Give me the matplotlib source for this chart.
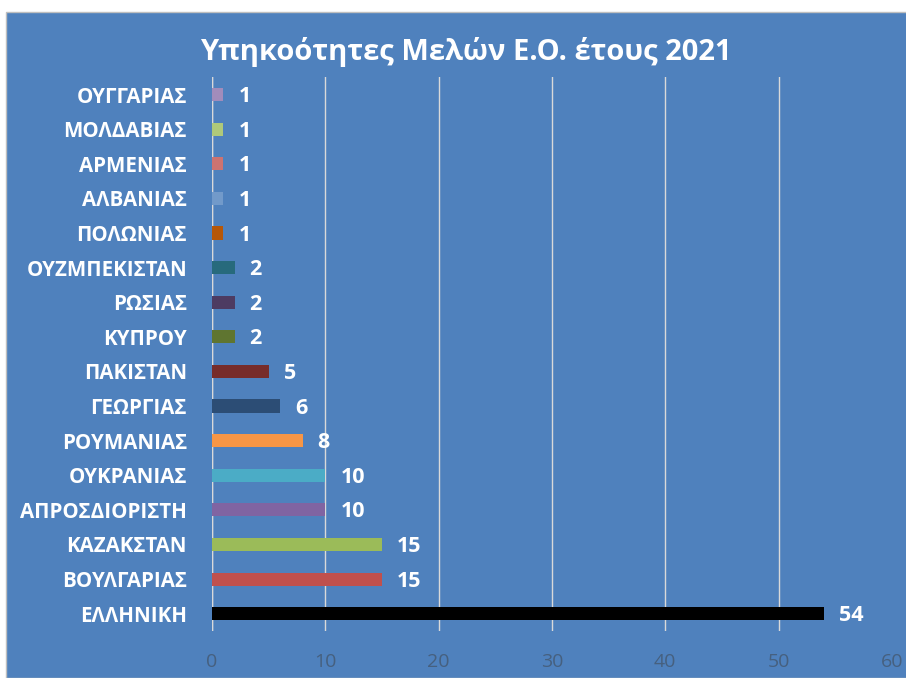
import matplotlib
matplotlib.use("Agg")
import matplotlib.pyplot as plt
from matplotlib.patches import Rectangle

plt.rcParams['font.family'] = ['Open Sans', 'DejaVu Sans']

# Δεδομένα (από κάτω προς τα πάνω)
countries = ['ΕΛΛΗΝΙΚΗ', 'ΒΟΥΛΓΑΡΙΑΣ', 'ΚΑΖΑΚΣΤΑΝ', 'ΑΠΡΟΣΔΙΟΡΙΣΤΗ', 'ΟΥΚΡΑΝΙΑΣ',
             'ΡΟΥΜΑΝΙΑΣ', 'ΓΕΩΡΓΙΑΣ', 'ΠΑΚΙΣΤΑΝ', 'ΚΥΠΡΟΥ', 'ΡΩΣΙΑΣ',
             'ΟΥΖΜΠΕΚΙΣΤΑΝ', 'ΠΟΛΩΝΙΑΣ', 'ΑΛΒΑΝΙΑΣ', 'ΑΡΜΕΝΙΑΣ', 'ΜΟΛΔΑΒΙΑΣ', 'ΟΥΓΓΑΡΙΑΣ']
members = [54, 15, 15, 10, 10, 8, 6, 5, 2, 2, 2, 1, 1, 1, 1, 1]
bar_colors = ['#000000', '#C0504D', '#9BBB59', '#8064A2', '#4BACC6',
              '#F79646', '#2C4D75', '#772C2A', '#5F7530', '#4D3B62',
              '#276A7C', '#B65708', '#729ACA', '#CD7371', '#AFC97A', '#A18CBB']
xticks = [0, 10, 20, 30, 40, 50, 60]

bg = '#4F81BD'

fig = plt.figure(figsize=(9.06, 6.78), dpi=100)
fig.patch.set_facecolor('white')
# μπλε περιοχή γραφήματος
fig.add_artist(Rectangle((6 / 906, 0), 1, 1 - 12 / 678, transform=fig.transFigure,
                         facecolor=bg, edgecolor='#BFBFBF', linewidth=1, zorder=-5))

ax = fig.add_axes([0.234, 0.0693, 0.7505, 0.8167])
ax.set_zorder(2)
ax.set_facecolor(bg)

y = range(len(countries))
ax.barh(y, members, height=0.38, color=bar_colors, zorder=3)

for i, v in enumerate(members):
    ax.annotate(str(v), (v, i), xytext=(15, -2), textcoords='offset pixels',
                va='center', ha='left', color='white', fontsize=15.5, fontweight='bold')

ax.set_xlim(0, 60)
ax.set_ylim(-0.5, 15.5)
ax.set_xticks(xticks)
ax.set_yticks(list(y))
ax.set_yticklabels(countries, color='white', fontsize=14.8, fontweight='bold')
ax.tick_params(axis='y', length=0, pad=18)
ax.tick_params(axis='x', length=0, pad=16, labelcolor='#46607F', labelsize=14)
ax.xaxis.grid(True, color='#D9D9D9', linewidth=1, zorder=0)
ax.get_xgridlines()[-1].set_visible(False)
ax.set_axisbelow(True)
for s in ax.spines.values():
    s.set_visible(False)
ax.axvline(0, color='#D9D9D9', linewidth=1, zorder=1)

fig.text(0.514, 0.923, 'Υπηκοότητες Μελών Ε.Ο. έτους 2021', ha='center', va='center',
         color='white', fontsize=21, fontweight='bold')

fig.savefig('out.png', dpi=100, facecolor=fig.get_facecolor())
